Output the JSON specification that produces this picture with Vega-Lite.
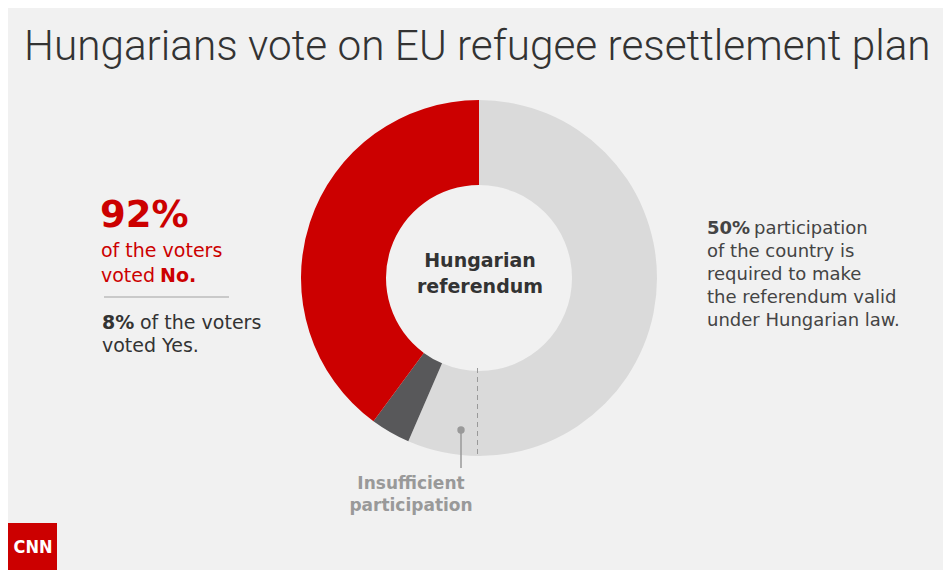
{
  "$schema": "https://vega.github.io/schema/vega-lite/v6.json",
  "autosize": {"type": "fit", "contains": "padding"},
  "width": 943,
  "height": 570,
  "padding": {"left": 8, "top": 8, "right": 0, "bottom": 0},
  "background": "white",
  "config": {"view": {"fill": "#f1f1f1", "stroke": null}, "font": "DejaVu Sans"},
  "layer": [
    {
      "data": {"values": [
        {"segment": "Required participation", "value": 50, "rank": 1},
        {"segment": "Insufficient participation", "value": 6.5, "rank": 2},
        {"segment": "Yes", "value": 3.6, "rank": 3},
        {"segment": "No", "value": 39.9, "rank": 4}
      ]},
      "mark": {"type": "arc", "radius": 178, "radius2": 93},
      "encoding": {
        "x": {"value": 471},
        "y": {"value": 270},
        "theta": {"field": "value", "type": "quantitative", "stack": true},
        "order": {"field": "rank", "type": "quantitative"},
        "color": {"field": "segment", "type": "nominal", "legend": null,
          "scale": {"domain": ["Required participation", "Insufficient participation", "Yes", "No"],
                    "range": ["#dadada", "#dadada", "#58585a", "#cc0000"]}}
      }
    },
    {
      "data": {"values": [{}]},
      "mark": {"type": "rule", "color": "#999999", "strokeWidth": 1, "strokeDash": [5, 4]},
      "encoding": {"x": {"value": 469.5}, "y": {"value": 360}, "y2": {"value": 447}}
    },
    {
      "data": {"values": [{}]},
      "mark": {"type": "rule", "color": "#999999", "strokeWidth": 1.5},
      "encoding": {"x": {"value": 453}, "y": {"value": 422}, "y2": {"value": 460}}
    },
    {
      "data": {"values": [{}]},
      "mark": {"type": "point", "filled": true, "color": "#999999", "opacity": 1, "size": 55},
      "encoding": {"x": {"value": 453}, "y": {"value": 422}}
    },
    {
      "data": {"values": [{}]},
      "mark": {"type": "text", "font": "Roboto", "fontWeight": 300, "fontSize": 42.3, "color": "#333333", "align": "left", "baseline": "alphabetic"},
      "encoding": {"x": {"value": 16}, "y": {"value": 52}, "text": {"value": "Hungarians vote on EU refugee resettlement plan"}}
    },
    {
      "data": {"values": [{}]},
      "mark": {"type": "text", "fontWeight": "bold", "fontSize": 37, "color": "#cc0000", "align": "left", "baseline": "alphabetic"},
      "encoding": {"x": {"value": 92}, "y": {"value": 219}, "text": {"value": "92%"}}
    },
    {
      "data": {"values": [{}]},
      "mark": {"type": "text", "fontSize": 19, "color": "#cc0000", "align": "left", "baseline": "alphabetic", "lineHeight": 25},
      "encoding": {"x": {"value": 93}, "y": {"value": 249}, "text": {"value": ["of the voters", "voted"]}}
    },
    {
      "data": {"values": [{}]},
      "mark": {"type": "text", "fontWeight": "bold", "fontSize": 19, "color": "#cc0000", "align": "left", "baseline": "alphabetic"},
      "encoding": {"x": {"value": 152}, "y": {"value": 274}, "text": {"value": "No."}}
    },
    {
      "data": {"values": [{}]},
      "mark": {"type": "rule", "color": "#bbbbbb", "strokeWidth": 1.5},
      "encoding": {"x": {"value": 96}, "x2": {"value": 221}, "y": {"value": 289}}
    },
    {
      "data": {"values": [{}]},
      "mark": {"type": "text", "fontWeight": "bold", "fontSize": 19, "color": "#333333", "align": "left", "baseline": "alphabetic"},
      "encoding": {"x": {"value": 94}, "y": {"value": 321}, "text": {"value": "8%"}}
    },
    {
      "data": {"values": [{}]},
      "mark": {"type": "text", "fontSize": 19, "color": "#333333", "align": "left", "baseline": "alphabetic"},
      "encoding": {"x": {"value": 132}, "y": {"value": 321}, "text": {"value": "of the voters"}}
    },
    {
      "data": {"values": [{}]},
      "mark": {"type": "text", "fontSize": 19, "color": "#333333", "align": "left", "baseline": "alphabetic"},
      "encoding": {"x": {"value": 94}, "y": {"value": 344}, "text": {"value": "voted Yes."}}
    },
    {
      "data": {"values": [{}]},
      "mark": {"type": "text", "fontWeight": "bold", "fontSize": 18, "color": "#444444", "align": "left", "baseline": "alphabetic"},
      "encoding": {"x": {"value": 699}, "y": {"value": 226}, "text": {"value": "50%"}}
    },
    {
      "data": {"values": [{}]},
      "mark": {"type": "text", "fontSize": 18, "color": "#444444", "align": "left", "baseline": "alphabetic"},
      "encoding": {"x": {"value": 746}, "y": {"value": 226}, "text": {"value": "participation"}}
    },
    {
      "data": {"values": [{}]},
      "mark": {"type": "text", "fontSize": 18, "color": "#444444", "align": "left", "baseline": "alphabetic", "lineHeight": 23},
      "encoding": {"x": {"value": 699}, "y": {"value": 249}, "text": {"value": ["of the country is", "required to make", "the referendum valid", "under Hungarian law."]}}
    },
    {
      "data": {"values": [{}]},
      "mark": {"type": "text", "fontWeight": "bold", "fontSize": 19, "color": "#333333", "align": "center", "baseline": "alphabetic", "lineHeight": 26},
      "encoding": {"x": {"value": 472}, "y": {"value": 259}, "text": {"value": ["Hungarian", "referendum"]}}
    },
    {
      "data": {"values": [{}]},
      "mark": {"type": "text", "fontWeight": "bold", "fontSize": 17, "color": "#999999", "align": "center", "baseline": "alphabetic", "lineHeight": 22},
      "encoding": {"x": {"value": 403}, "y": {"value": 481}, "text": {"value": ["Insufficient", "participation"]}}
    },
    {
      "data": {"values": [{}]},
      "mark": {"type": "rect", "color": "#cc0000"},
      "encoding": {"x": {"value": 0}, "x2": {"value": 49}, "y": {"value": 515}, "y2": {"value": 562}}
    },
    {
      "data": {"values": [{}]},
      "mark": {"type": "text", "font": "DejaVu Sans Condensed", "fontWeight": "bold", "fontSize": 18, "color": "white", "align": "center", "baseline": "middle", "letterSpacing": -1},
      "encoding": {"x": {"value": 25}, "y": {"value": 540}, "text": {"value": "CNN"}}
    }
  ]
}
